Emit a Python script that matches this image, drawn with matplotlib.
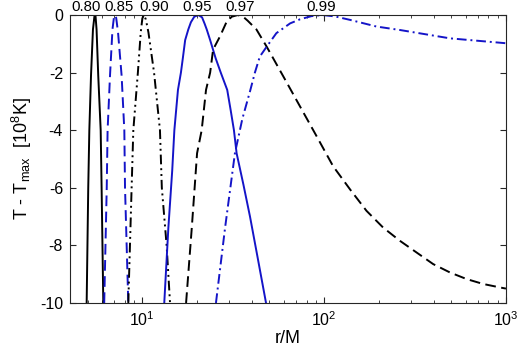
import numpy as np
import matplotlib
matplotlib.use("Agg")
import matplotlib.pyplot as plt
from matplotlib.ticker import LogLocator, FixedLocator, NullFormatter

plt.rcParams['font.family'] = ['Liberation Sans', 'DejaVu Sans']
plt.rcParams['mathtext.fontset'] = 'custom'
plt.rcParams['mathtext.rm'] = 'Liberation Sans'
plt.rcParams['mathtext.it'] = 'Liberation Sans:italic'

# spin values and their label positions (r/M) along the top
spins = ["0.80", "0.85", "0.90", "0.95", "0.97", "0.99"]
label_r = [4.90, 7.44, 11.6, 20.0, 34.4, 96.2]

# T - T_max [10^8 K]
r80 = [4.94, 5.04, 5.11, 5.22, 5.35, 5.45, 5.49, 5.53, 5.60, 5.72, 5.90, 5.97, 6.10]
t80 = [-10, -6, -4, -2.1, -0.5, -0.05, 0, -0.05, -0.5, -2.1, -4, -6, -10]

r85 = [6.17, 6.37, 6.44, 6.64, 6.85, 6.98, 7.07, 7.18, 7.35, 7.69, 7.96, 8.03, 8.37]
t85 = [-10, -6, -4, -2.1, -0.5, -0.08, 0, -0.1, -0.6, -2.1, -4, -6, -10]

r90 = [8.37, 8.73, 8.92, 9.45, 9.80, 10.0, 10.2, 10.45, 10.8, 11.6, 12.5,
       12.8, 13.6, 14.2]
t90 = [-10, -6, -4, -2, -0.6, -0.12, 0, -0.15, -0.6, -2, -4, -6, -8, -10]

r95 = [13.2, 13.9, 14.6, 15.0, 15.7, 16.3, 16.7, 17.2, 17.9, 18.5, 19.3,
       20.3, 21.3, 22.0, 22.6, 23.6, 25.3, 27.0, 29.3, 30.6, 31.9, 33.0,
       36.0, 39.1, 43.0, 47.9]
t95 = [-10, -7.4, -5.4, -4.0, -2.6, -2.0, -1.5, -0.87, -0.5, -0.25, -0.06,
       0, -0.08, -0.3, -0.5, -0.87, -1.5, -2.0, -2.6, -3.3, -4.0, -4.8,
       -5.9, -7.0, -8.4, -10]

r97 = [17.4, 18.7, 20.0, 21.2, 22.4, 23.6, 24.5, 26.7, 29.0, 31.0, 33.5,
       36.0, 38.0, 42.4, 48.3, 59.6, 73.6, 90.9, 112, 139, 171, 211, 261,
       323, 398, 492, 608, 750, 927, 1000]
t97 = [-10, -7.4, -4.8, -4.0, -2.6, -2.0, -1.2, -0.75, -0.25, -0.06, 0,
       -0.07, -0.2, -0.5, -1.1, -2.13, -3.17, -4.21, -5.25, -6.06, -6.80,
       -7.38, -7.84, -8.25, -8.65, -8.94, -9.17, -9.34, -9.46, -9.5]

r99 = [25.4, 28.5, 32.3, 35.5, 39.1, 41.6, 44.3, 48.3, 54.6, 65.0, 73.6,
       85.0, 98.0, 115, 139, 194, 261, 492, 1000]
t99 = [-10, -7.4, -4.8, -3.6, -2.65, -2.0, -1.44, -1.1, -0.63, -0.29, -0.15,
       -0.04, 0, -0.05, -0.17, -0.40, -0.52, -0.81, -0.98]

black = 'k'
blue = '#1414c8'

fig = plt.figure(figsize=(5.2, 3.46), dpi=100)
ax = fig.add_axes([0.1346, 0.1243, 0.973 - 0.1346, 0.9566 - 0.1243])

lw = 1.4
ax.plot(r80, t80, color=black, lw=lw)
ax.plot(r85, t85, color=blue, lw=lw, dashes=(5.5, 2.8))
ax.plot(r90, t90, color=black, lw=lw, dashes=(5, 2, 1, 2, 1, 2))
ax.plot(r95, t95, color=blue, lw=lw)
ax.plot(r97, t97, color=black, lw=lw, dashes=(5.5, 2.8))
ax.plot(r99, t99, color=blue, lw=lw, dashes=(5, 2, 1, 2))

ax.set_xscale('log')
ax.set_xlim(4, 1000)
ax.set_ylim(-10, 0)

ax.xaxis.set_major_locator(FixedLocator([10, 100, 1000]))
ax.set_xticklabels([r'$\mathregular{10^{1}}$', r'$\mathregular{10^{2}}$',
                    r'$\mathregular{10^{3}}$'])
ax.xaxis.set_minor_locator(LogLocator(base=10, subs=np.arange(2, 10)))
ax.xaxis.set_minor_formatter(NullFormatter())
ax.set_yticks([0, -2, -4, -6, -8, -10])
ax.set_yticklabels(['0', '-2', '-4', '-6', '-8', '-10'])

edge = '#262626'
for s in ax.spines.values():
    s.set_color(edge)
    s.set_linewidth(0.8)
ax.tick_params(which='both', direction='in', top=True, right=True,
               color=edge, labelsize=11.5, labelcolor='k', pad=5)
ax.tick_params(which='major', length=4.5)
ax.tick_params(which='minor', length=2.5)

ax.set_xlabel('r/M', fontsize=13, labelpad=1)
ax.set_ylabel(r'T - T$_{\mathregular{max}}$  [10$^{\mathregular{8}}$K]',
              fontsize=13, labelpad=4)

trans = ax.get_xaxis_transform()
for s, x in zip(spins, label_r):
    ax.text(x, 1.003, s, transform=trans, ha='center', va='bottom',
            fontsize=10.8)

fig.savefig('out.png', dpi=100)
